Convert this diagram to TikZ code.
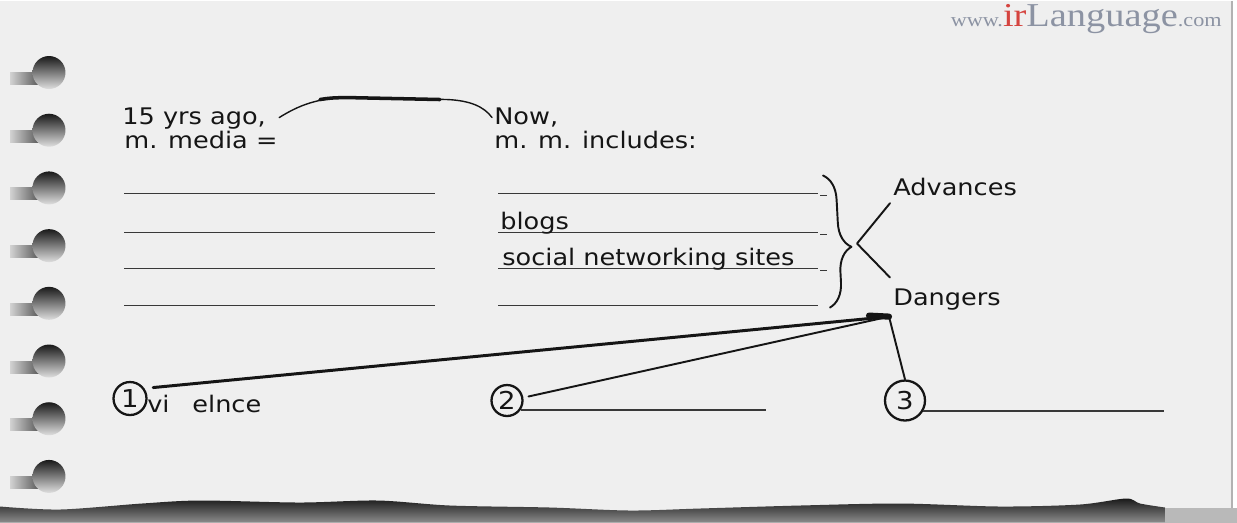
\documentclass[tikz,border=0pt]{standalone}
\usepackage{fontspec}
\setmainfont{DejaVu Sans}
\newfontfamily\handfont[FakeStretch=1.12]{DejaVu Sans}
\newfontfamily\wmfont[FakeStretch=1.15]{Liberation Serif}
\usepackage{tikz}
\usetikzlibrary{calc,decorations.pathreplacing}
\definecolor{paper}{HTML}{EFEFEF}
\definecolor{ink}{HTML}{151515}
\definecolor{wmgray}{HTML}{8C93A3}
\definecolor{wmred}{HTML}{D5443F}

\begin{document}
\begin{tikzpicture}[x=0.02cm,y=-0.02cm,
    hand/.style={font=\handfont\fontsize{13}{15}\selectfont,text=ink,inner sep=0pt,anchor=base west},
    blank/.style={ink!85,line width=0.9pt},
    pen/.style={ink,line width=1.1pt,line cap=round,line join=round},
    num/.style={draw=ink,line width=1.3pt,circle,inner sep=0pt,font=\handfont\fontsize{14}{15}\selectfont,text=ink}]
  % paper sheet
  \fill[white] (0,0) rectangle (1237,522);
  \fill[paper] (0,0) rectangle (1232,522);
  \draw[gray!60,line width=0.6pt] (1232,0) -- (1232,508);
  \useasboundingbox (0,0) rectangle (1237,522);
  % ring holes down the left edge
  \foreach \k in {0,...,7} {
    \pgfmathsetmacro{\hy}{72+57.7*\k}
    \shade[left color=gray!35,right color=black!70] (10,\hy) rectangle (42,\hy+12);
    \shade[top color=black!90,bottom color=gray!25] (49,\hy) circle (0.33cm);
  }
  % torn bottom edge
  \shade[top color=black!90,bottom color=black!45] (0,522) -- plot[smooth] coordinates {(0,506) (60,509) (142,503) (200,500) (300,502) (378,500) (450,505) (550,507) (630,510) (700,508) (800,505) (900,503) (1000,506) (1080,504) (1126,498) (1140,503) (1165,507)} -- (1165,522) -- cycle;
  \fill[gray!55] (1165,507) rectangle (1237,522);
  % watermark
  \node[anchor=base east,inner sep=0pt,text=wmgray] (wm) at (1222,26)
    {\wmfont\fontsize{11}{11}\selectfont www.\fontsize{19}{19}\selectfont\textcolor{wmred}{ir}Language\fontsize{11}{11}\selectfont.com};
  % then and now
  \node[hand] (ago) at (122,124) {15 yrs ago,};
  \node[hand] (mmedia) at (124,148) {m. media =};
  \node[hand] (now) at (494,124) {Now,};
  \node[hand] (incl) at (494,148) {m. m. includes:};
  \draw[pen,line width=0.8pt] ([shift={(13,-1)}]ago.east) .. controls (300,104) and (318,98) .. (345,97)
    -- (447,99) .. controls (470,100) and (484,106) .. ([shift={(-2,0)}]now.west);
  \draw[pen,line width=2pt] (320,99) .. controls (330,97.5) .. (345,97) -- (440,99);
  % blank lines to fill in
  \foreach \ly in {193,232,268,305} {
    \draw[blank] (124,\ly) -- (435,\ly);
    \draw[blank] (498,\ly) -- (818,\ly);
  }
  \foreach \ly in {193,232,268} \draw[blank] (820,\ly+2) -- (827,\ly+2);
  \node[hand] (blogs) at (500,229) {blogs};
  \node[hand] (sns) at (502,265) {social networking sites};
  % brace and fork
  \draw[pen,decorate,decoration={brace,amplitude=14pt,aspect=0.55}] (823,175) -- (830,307);
  \node[hand] (adv) at (893,195) {Advances};
  \node[hand] (dan) at (893,305) {Dangers};
  \coordinate (fork) at (857,243);
  \draw[pen] ([shift={(-3,7)}]adv.south west) -- (fork) -- ([shift={(-3,-11)}]dan.north west);
  % numbered dangers
  \node[num,minimum size=0.66cm] (c1) at (130,398) {1};
  \node[hand] (viol) at (147,412) {vi\hspace{13pt}elnce};
  \node[num,minimum size=0.62cm] (c2) at (507,400) {2};
  \node[num,minimum size=0.8cm] (c3) at (905,400) {3};
  \coordinate (conv) at ([shift={(-4,6)}]dan.south west);
  \draw[pen,line width=1.7pt,shorten <=5pt] (c1.35) -- (conv);
  \draw[pen,shorten <=3pt] (c2.10) -- (conv);
  \draw[pen,line width=3.5pt] ([shift={(-20,-1)}]conv) -- (conv);
  \draw[pen] (conv) -- (c3.north);
  \draw[blank] (c2.-35) -- +(245,0);
  \draw[blank] (c3.-30) -- +(241,0);
\end{tikzpicture}
\end{document}
